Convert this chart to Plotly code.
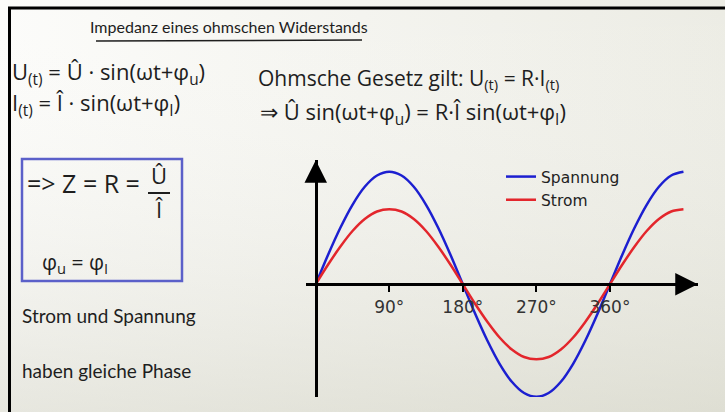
import plotly.graph_objects as go

phase_deg = [0, 15, 30, 45, 60, 75, 90, 105, 120, 135, 150, 165, 180, 195, 210, 225,
             240, 255, 270, 285, 300, 315, 330, 345, 360, 375, 390, 405, 420, 435, 450]
spannung = [0.00, 0.39, 0.75, 1.06, 1.30, 1.45, 1.50, 1.45, 1.30, 1.06, 0.75, 0.39, 0.00,
            -0.39, -0.75, -1.06, -1.30, -1.45, -1.50, -1.45, -1.30, -1.06, -0.75, -0.39,
            0.00, 0.39, 0.75, 1.06, 1.30, 1.45, 1.50]
strom = [0.00, 0.26, 0.50, 0.71, 0.87, 0.97, 1.00, 0.97, 0.87, 0.71, 0.50, 0.26, 0.00,
         -0.26, -0.50, -0.71, -0.87, -0.97, -1.00, -0.97, -0.87, -0.71, -0.50, -0.26,
         0.00, 0.26, 0.50, 0.71, 0.87, 0.97, 1.00]
tick_vals = [90, 180, 270, 360]
tick_text = ["90°", "180°", "270°", "360°"]
series_names = ["Spannung", "Strom"]

W, H = 725, 412
BLUE = "#1c1fd0"
RED = "#e3262c"
INK = "#1e1e1e"
EQ_FONT = "Open Sans"
PROSE_FONT = "Lato"


def px(x):
    return x / W


def py(y):
    return 1 - y / H


# chart area (pixels) and axis ranges
xdom = [px(306), px(698)]
ydom = [py(397), py(160)]
xr = [-11.9, 467.8]
yr = [-1.503, 1.657]
x0_pos = xdom[0] + (0 - xr[0]) / (xr[1] - xr[0]) * (xdom[1] - xdom[0])
y0_pos = ydom[0] + (0 - yr[0]) / (yr[1] - yr[0]) * (ydom[1] - ydom[0])

fig = go.Figure()

# whiteboard shading, on the full-page axes underneath
fig.add_trace(go.Scatter(
    x=[0, 1, 1, 0, 0], y=[0, 0, 1, 1, 0], fill="toself", mode="none",
    fillgradient=dict(type="horizontal", colorscale=[[0, "#fcfcfa"], [1, "#ecece4"]]),
    showlegend=False, hoverinfo="skip"))
fig.add_trace(go.Scatter(
    x=[0, 1, 1, 0, 0], y=[0, 0, 1, 1, 0], fill="toself", mode="none",
    fillgradient=dict(type="vertical",
                      colorscale=[[0, "rgba(205,205,190,0.45)"], [1, "rgba(255,255,255,0)"]]),
    showlegend=False, hoverinfo="skip"))

fig.add_trace(go.Scatter(x=phase_deg, y=spannung, name=series_names[0], mode="lines",
                         line=dict(color=BLUE, width=2.5, shape="spline"),
                         xaxis="x2", yaxis="y2"))
fig.add_trace(go.Scatter(x=phase_deg, y=strom, name=series_names[1], mode="lines",
                         line=dict(color=RED, width=2.5, shape="spline"),
                         xaxis="x2", yaxis="y2"))

fig.update_layout(
    width=W, height=H,
    margin=dict(l=0, r=0, t=0, b=0),
    paper_bgcolor="white",
    plot_bgcolor="rgba(0,0,0,0)",
    xaxis=dict(domain=[0, 1], range=[0, 1], visible=False, fixedrange=True),
    yaxis=dict(domain=[0, 1], range=[0, 1], visible=False, fixedrange=True),
    xaxis2=dict(domain=xdom, range=xr, anchor="free", position=y0_pos,
                showgrid=False, zeroline=False, showline=True, linecolor="black", linewidth=2.5,
                tickvals=tick_vals, ticktext=tick_text, ticks="outside", ticklen=6,
                tickwidth=1.5, tickcolor="black", ticklabelstandoff=1,
                tickfont=dict(family="DejaVu Sans", size=17, color="#333")),
    yaxis2=dict(domain=ydom, range=yr, anchor="free", position=x0_pos,
                showgrid=False, zeroline=False, showline=True, linecolor="black", linewidth=2.5,
                showticklabels=False, ticks=""),
    legend=dict(x=px(501), y=py(160), xanchor="left", yanchor="top",
                bgcolor="rgba(0,0,0,0)", itemwidth=30, tracegroupgap=0,
                font=dict(family="DejaVu Sans", size=15.5, color="#222")),
    showlegend=True,
)

# axis arrowheads
fig.add_annotation(x=467.5, y=0, ax=440, ay=0, xref="x2", yref="y2", axref="x2", ayref="y2",
                   text="", showarrow=True, arrowhead=2, arrowsize=1.8, arrowwidth=2.5,
                   arrowcolor="black")
fig.add_annotation(x=0, y=1.655, ax=0, ay=1.4, xref="x2", yref="y2", axref="x2", ayref="y2",
                   text="", showarrow=True, arrowhead=2, arrowsize=1.8, arrowwidth=2.5,
                   arrowcolor="black")

# board frame and box
fig.add_shape(type="line", xref="paper", yref="paper", x0=px(8), x1=1, y0=py(8), y1=py(8),
              line=dict(color="black", width=3))
fig.add_shape(type="line", xref="paper", yref="paper", x0=px(9.5), x1=px(9.5), y0=py(7), y1=0,
              line=dict(color="black", width=3))
fig.add_shape(type="rect", xref="paper", yref="paper", x0=px(22), x1=px(182), y0=py(281), y1=py(159),
              line=dict(color="#5b60c9", width=2.5))
# title underline and fraction bar
fig.add_shape(type="line", xref="paper", yref="paper", x0=px(96), x1=px(362), y0=py(41), y1=py(40),
              line=dict(color=INK, width=1.5))
fig.add_shape(type="line", xref="paper", yref="paper", x0=px(148), x1=px(170), y0=py(193), y1=py(193),
              line=dict(color=INK, width=2))


def note(text, x, y, size, anchor="left", family=EQ_FONT):
    fig.add_annotation(text=text, x=px(x), y=py(y), xref="paper", yref="paper",
                       xanchor=anchor, yanchor="middle", showarrow=False,
                       font=dict(family=family, size=size, color=INK))


note("Impedanz eines ohmschen Widerstands", 229, 27, 16, "center", PROSE_FONT)
note("U<sub>(t)</sub> = Û · sin(ωt+φ<sub>u</sub>)", 10, 73, 22)
note("I<sub>(t)</sub> = Î · sin(ωt+φ<sub>I</sub>)", 10, 104, 22)
note("Ohmsche Gesetz gilt: U<sub>(t)</sub> = R·I<sub>(t)</sub>", 256, 79, 21)
note("⇒ Û sin(ωt+φ<sub>u</sub>) = R·Î sin(ωt+φ<sub>I</sub>)", 258, 113, 22)
note("=> Z = R =", 25, 183, 25)
note("Û", 159, 175, 22, "center")
note("Î", 159, 209, 22, "center")
note("φ<sub>u</sub> = φ<sub>I</sub>", 40, 263, 21)
note("Strom und Spannung", 20, 315, 19, family=PROSE_FONT)
note("haben gleiche Phase", 20, 370, 19, family=PROSE_FONT)

fig.write_html("out.html", config={"displayModeBar": False},
               post_script="document.body.style.margin = '0';")
